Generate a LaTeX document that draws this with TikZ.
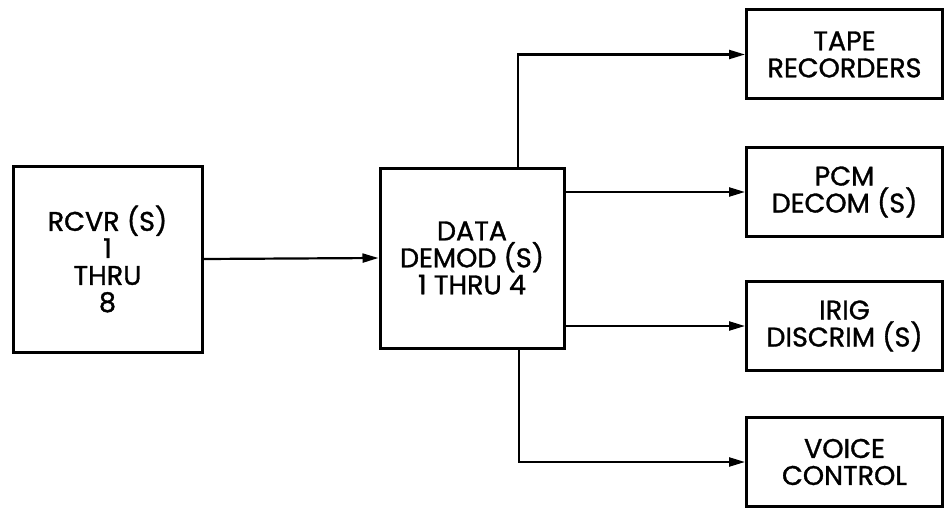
\documentclass[tikz,border=0pt]{standalone}
\usepackage{fontspec}
\setmainfont{Poppins}[BoldFont=Poppins, BoldFeatures={FakeBold=1.2}]
\usetikzlibrary{arrows.meta}

\tikzset{
  unitbox/.style={draw, line width=3pt, align=center, inner sep=0pt,
    font=\fontsize{27}{27}\selectfont\bfseries},
  feed/.style={line width=2.2pt, -{Triangle[length=16pt,width=9pt]}}
}

\begin{document}
\begin{tikzpicture}[x=1pt, y=-1pt]
			\useasboundingbox (0,0) rectangle (945,508);
			% receivers and demodulators
			\node[unitbox, minimum width=189pt, minimum height=186pt] (rcvr) at (107.5,259) {RCVR (S)\\1\\THRU\\8};
			\node[unitbox, minimum width=184pt, minimum height=180pt] (demod) at (472,258) {DATA\\DEMOD (S)\\1 THRU 4};
			% outputs
			\node[unitbox, minimum width=196pt, minimum height=89pt] (tape) at (844.5,54.5) {TAPE\\RECORDERS};
			\node[unitbox, minimum width=196pt, minimum height=89pt] (pcm) at (844.5,192) {PCM\\DECOM (S)};
			\node[unitbox, minimum width=196pt, minimum height=89pt] (irig) at (844.5,326) {IRIG\\DISCRIM (S)};
			\node[unitbox, minimum width=196pt, minimum height=89pt] (voice) at (844.5,462) {VOICE\\CONTROL};
			% links
			\draw[feed] (rcvr.east) -- (demod.west);
			\draw[feed] ([xshift=46pt]demod.north) |- (tape.west);
			\draw[feed] (demod.east |- pcm.west) -- (pcm.west);
			\draw[feed] (demod.east |- irig.west) -- (irig.west);
			\draw[feed] ([xshift=47pt]demod.south) |- (voice.west);
		\end{tikzpicture}
\end{document}
